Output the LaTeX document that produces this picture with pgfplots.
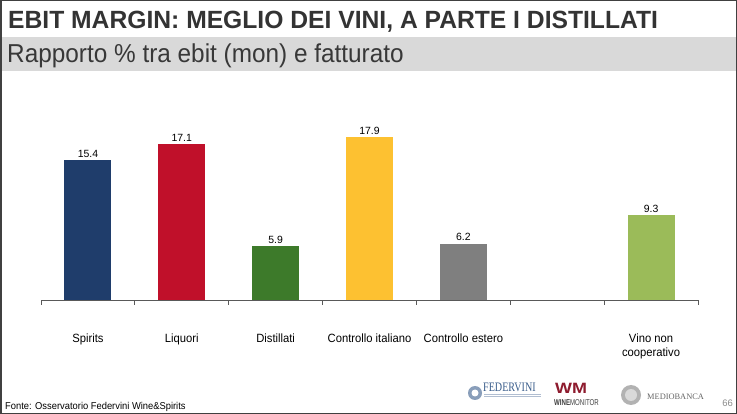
\documentclass[border=0pt]{standalone}
\usepackage{pgfplots}
\pgfplotsset{compat=1.18}
\usepackage{fontspec}
\setmainfont{Liberation Sans}
\newfontfamily\titlefont{Liberation Sans}[FakeStretch=0.99,BoldFont={Liberation Sans Bold}]
\newfontfamily\subfont{Liberation Sans}[FakeStretch=0.94]
\newfontfamily\slightnarrow{Liberation Sans}[FakeStretch=0.94]
\newfontfamily\logoserif{Liberation Serif}
\definecolor{cspirits}{HTML}{1F3D6B}
\definecolor{cliquori}{HTML}{C0102A}
\definecolor{cdist}{HTML}{3D7A2A}
\definecolor{cita}{HTML}{FDC131}
\definecolor{cest}{HTML}{7F7F7F}
\definecolor{cvino}{HTML}{9BBB59}
\definecolor{band}{HTML}{D9D9D9}
\definecolor{titlec}{HTML}{333333}
\definecolor{axc}{HTML}{595959}
\definecolor{fedblue}{HTML}{3B5E8C}
\definecolor{wmred}{HTML}{8E1B2E}
\begin{document}
\begin{tikzpicture}
% canvas 737 x 414 px (1px = 1bp), y measured from bottom
\useasboundingbox (0,0) rectangle (737bp,414bp);
\fill[white] (0,0) rectangle (737bp,414bp);
\fill[band] (0,343bp) rectangle (737bp,377bp);
\draw[black!75, line width=1.5bp] (0.75bp,0.75bp) rectangle (736.25bp,413.25bp);
\node[anchor=base west, inner sep=0, text=titlec, font=\titlefont\bfseries\fontsize{25}{28}\selectfont] at (8bp,385bp) {EBIT MARGIN: MEGLIO DEI VINI, A PARTE I DISTILLATI};
\node[anchor=base west, inner sep=0, text=black!78, font=\subfont\fontsize{26}{28}\selectfont] at (7bp,351bp) {Rapporto \% tra ebit (mon) e fatturato};
\begin{axis}[
  at={(41bp,114bp)}, anchor=south west,
  scale only axis, width=657bp, height=182bp,
  xmin=-0.5, xmax=6.5, ymin=0, ymax=20,
  clip=false,
  hide y axis,
  axis x line*=bottom,
  axis line style={axc, line width=0.8bp},
  xtick={0,1,2,3,4,5,6},
  xticklabels={Spirits, Liquori, Distillati, Controllo italiano, Controllo estero, {}, {Vino non\\cooperativo}},
  major tick length=0pt,
  xticklabel style={font=\slightnarrow\fontsize{12}{14}\selectfont, align=center, anchor=north, yshift=-30bp, text=black},
  extra x ticks={-0.5,0.5,1.5,2.5,3.5,4.5,5.5,6.5},
  extra x tick labels={},
  extra x tick style={tick align=outside, major tick length=5bp, tick style={axc, line width=0.8bp}},
  /pgf/number format/assume math mode=true,
  /pgf/number format/fixed, /pgf/number format/precision=1, /pgf/number format/fixed zerofill,
  nodes near coords,
  every node near coord/.append style={font=\fontsize{10.5}{12}\selectfont, text=black, yshift=-1bp},
]
\addplot[ybar, bar width=0.5, fill=cspirits, draw=none] coordinates {(0,15.4)};
\addplot[ybar, bar width=0.5, fill=cliquori, draw=none] coordinates {(1,17.1)};
\addplot[ybar, bar width=0.5, fill=cdist, draw=none] coordinates {(2,5.9)};
\addplot[ybar, bar width=0.5, fill=cita, draw=none] coordinates {(3,17.9)};
\addplot[ybar, bar width=0.5, fill=cest, draw=none] coordinates {(4,6.2)};
\addplot[ybar, bar width=0.5, fill=cvino, draw=none] coordinates {(6,9.3)};
\end{axis}
\node[anchor=base west, inner sep=0, font=\slightnarrow\fontsize{10}{12}\selectfont, text=black] at (5bp,5bp) {Fonte: Osservatorio Federvini Wine\&Spirits};
\node[anchor=base east, inner sep=0, font=\fontsize{9.5}{11}\selectfont, text=black!45] at (733bp,8bp) {66};
% Federvini logo
\fill[fedblue!60] (475bp,21bp) circle (7bp);
\fill[white] (475bp,21bp) circle (3.5bp);
\node[anchor=base west, inner sep=0, font=\logoserif\fontsize{13}{14}\selectfont, text=fedblue] at (483bp,23bp) {\scalebox{0.78}[1]{FEDERVINI}};
\draw[fedblue!40, line width=1bp] (484bp,19.5bp) -- (541bp,19.5bp);
\draw[fedblue!40, line width=1bp] (484bp,17bp) -- (541bp,17bp);
% WineMonitor logo
\node[anchor=base, inner sep=0, font=\bfseries\fontsize{15}{16}\selectfont, text=wmred] at (571bp,21bp) {\scalebox{1.2}[1]{WM}};
\node[anchor=base west, inner sep=0, font=\fontsize{8.5}{9}\selectfont, text=black!75] at (554bp,9bp) {\scalebox{0.72}[1]{\textbf{WINE}MONITOR}};
% Mediobanca logo
\fill[black!30] (631bp,19bp) circle (10bp);
\fill[black!15] (631bp,19bp) circle (6bp);
\node[anchor=base west, inner sep=0, font=\logoserif\fontsize{8.4}{10}\selectfont, text=black!60] at (647bp,15bp) {MEDIOBANCA};
\end{tikzpicture}
\end{document}
